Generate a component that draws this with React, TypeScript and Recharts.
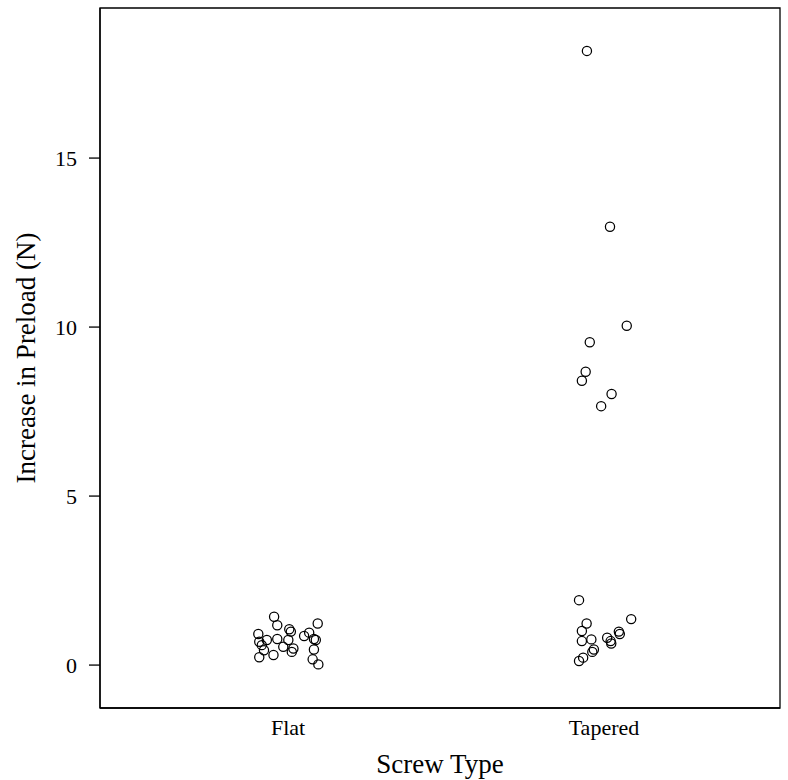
import React from "react";
import {
  ScatterChart,
  Scatter,
  XAxis,
  YAxis,
  ReferenceArea,
} from "recharts";

// categories on the x axis
const categories = ["Flat", "Tapered"];

// increase in preload (N) per screw
const flatValues = [
  1.43, 1.18, 1.23, 0.92, 1.06, 0.99, 0.96, 0.86, 0.74, 0.77, 0.74, 0.77,
  0.74, 0.69, 0.59, 0.54, 0.44, 0.49, 0.39, 0.46, 0.23, 0.3, 0.17, 0.02,
];
// horizontal jitter of each point around its category
const flatJitter = [
  -0.044, -0.034, 0.094, -0.094, 0.004, 0.009, 0.067, 0.051, -0.067, -0.034,
  0.001, 0.082, 0.088, -0.091, -0.083, -0.015, -0.076, 0.017, 0.012, 0.082,
  -0.091, -0.046, 0.078, 0.096,
];

const taperedValues = [
  18.17, 12.97, 10.04, 9.55, 8.68, 8.41, 8.02, 7.66, 1.92, 1.23, 1.01, 1.36,
  0.71, 0.76, 0.81, 0.71, 0.64, 0.99, 0.92, 0.46, 0.39, 0.22, 0.12,
];
const taperedJitter = [
  -0.054, 0.019, 0.072, -0.045, -0.058, -0.07, 0.024, -0.009, -0.079, -0.055,
  -0.07, 0.086, -0.07, -0.04, 0.01, 0.021, 0.023, 0.047, 0.05, -0.032,
  -0.037, -0.066, -0.079,
];

const yTicks = [0, 5, 10, 15];

const font = "'Liberation Serif', 'Times New Roman', serif";

const points = [
  ...flatValues.map((v, i) => ({ x: 1 + flatJitter[i], y: v })),
  ...taperedValues.map((v, i) => ({ x: 2 + taperedJitter[i], y: v })),
];

const xDomain: [number, number] = [0.405, 2.557];
const yDomain: [number, number] = [-1.27, 19.44];

function OpenCircle(props: any) {
  const { cx, cy } = props;
  return (
    <circle cx={cx} cy={cy} r={4.6} fill="none" stroke="#000" strokeWidth={1.25} />
  );
}

export default function App() {
  return (
    <div style={{ position: "absolute", left: 0, top: 0, background: "#fff" }}>
      <ScatterChart
        width={788}
        height={780}
        margin={{ top: 8, right: 8, left: 0, bottom: 0 }}
      >
        <XAxis
          type="number"
          dataKey="x"
          domain={xDomain}
          allowDataOverflow
          ticks={[1, 2]}
          tickFormatter={(v: number) => categories[Math.round(v) - 1]}
          tickLine={false}
          tickSize={0}
          tickMargin={11}
          height={72}
          axisLine={{ stroke: "#000", strokeWidth: 1.3 }}
          tick={{ fontSize: 22, fontFamily: font, fill: "#000" }}
          label={{
            value: "Screw Type",
            position: "insideBottom",
            offset: 7,
            style: { fontSize: 27, fontFamily: font, fill: "#000" },
          }}
        />
        <YAxis
          type="number"
          dataKey="y"
          domain={yDomain}
          allowDataOverflow
          ticks={yTicks}
          width={100}
          tickSize={11}
          tickMargin={12}
          tickLine={{ stroke: "#000", strokeWidth: 1.3 }}
          axisLine={{ stroke: "#000", strokeWidth: 1.3 }}
          tick={{ fontSize: 22, fontFamily: font, fill: "#000" }}
          label={{
            value: "Increase in Preload (N)",
            angle: -90,
            position: "insideLeft",
            offset: 25,
            style: { fontSize: 27, fontFamily: font, fill: "#000", textAnchor: "middle" },
          }}
        />
        {/* plot frame */}
        <ReferenceArea
          x1={xDomain[0]}
          x2={xDomain[1]}
          y1={yDomain[0]}
          y2={yDomain[1]}
          fill="none"
          fillOpacity={0}
          stroke="#000"
          strokeWidth={1.3}
          strokeOpacity={1}
          ifOverflow="visible"
        />
        <Scatter
          data={points}
          shape={OpenCircle}
          isAnimationActive={false}
        />
      </ScatterChart>
    </div>
  );
}
